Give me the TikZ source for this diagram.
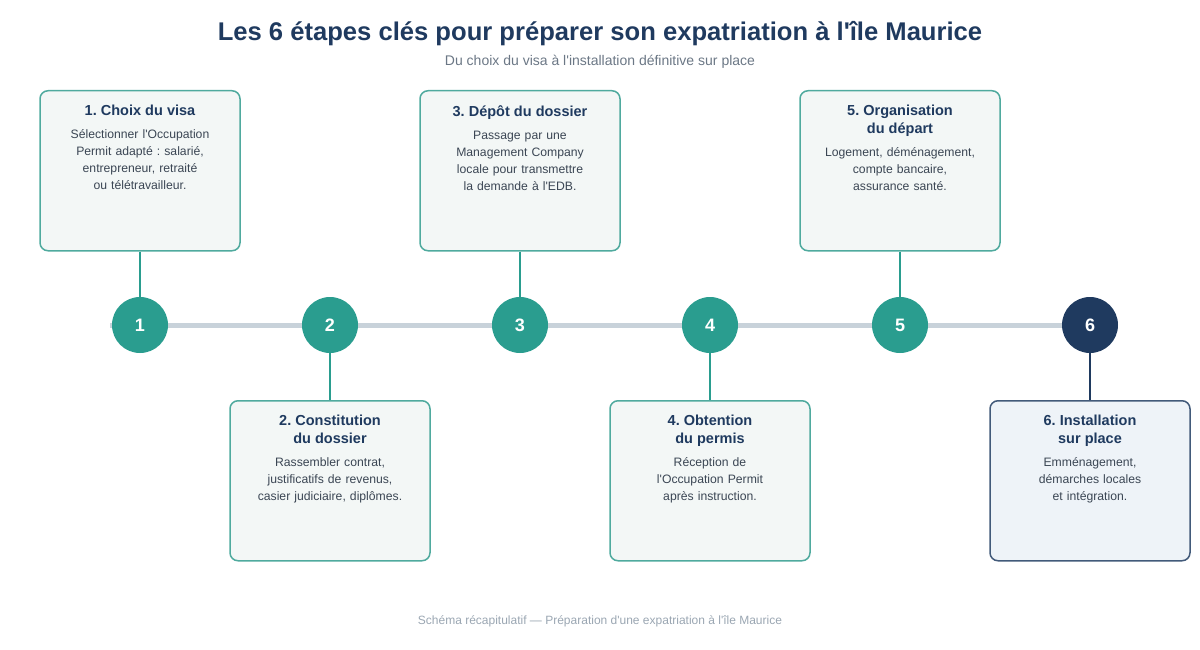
\documentclass[tikz,border=0pt]{standalone}
\usepackage{fontspec}
\setmainfont{Liberation Sans}[Ligatures=TeXOff]
\usepackage{xcolor}
\usetikzlibrary{positioning,backgrounds}
\frenchspacing
\definecolor{teal}{HTML}{2A9D8F}
\definecolor{navy}{HTML}{1F3A5F}
\definecolor{tealframe}{HTML}{4FAA9E}
\definecolor{navyframe}{HTML}{425A7A}
\definecolor{tealfill}{HTML}{F3F7F6}
\definecolor{navyfill}{HTML}{EEF3F8}
\definecolor{rail}{HTML}{C8D2DA}
\definecolor{bodytext}{HTML}{3B4654}
\definecolor{subtext}{HTML}{6B7785}
\definecolor{foottext}{HTML}{9AA6B2}
\tikzset{
  step circle/.style={circle,fill=teal,text=white,minimum size=56pt,inner sep=0pt,font=\fontsize{18}{20}\selectfont\bfseries},
  last circle/.style={step circle,fill=navy},
  step box/.style={draw=tealframe,fill=tealfill,line width=1.5pt,rounded corners=8pt,minimum width=200pt,minimum height=160pt,anchor=north},
  last box/.style={step box,draw=navyframe,fill=navyfill},
  box text/.style={anchor=north,align=center,text width=196pt,text=bodytext,font=\fontsize{12.2}{17}\selectfont,inner sep=0pt},
  link/.style={draw=teal,line width=2pt},
}
\newcommand{\steptitle}[1]{{\fontsize{14.5}{18}\selectfont\bfseries\color{navy}#1\par}\vspace{6pt}}

\begin{document}
\begin{tikzpicture}[x=1pt,y=-1pt]
			\useasboundingbox (0,0) rectangle (1200,650);
			% titre
			\node[font=\fontsize{25.6}{28}\selectfont\bfseries,text=navy] (title) at (600,34) {Les 6 étapes clés pour préparer son expatriation à l'île Maurice};
			\node[font=\fontsize{14}{16}\selectfont,text=subtext] (subtitle) at (600,62) {Du choix du visa à l'installation définitive sur place};
			% frise
			\coordinate (start) at (110,325);
			\node[step circle] (c1) at (140,325) {1};
			\node[step circle] (c2) at (330,325) {2};
			\node[step circle] (c3) at (520,325) {3};
			\node[step circle] (c4) at (710,325) {4};
			\node[step circle] (c5) at (900,325) {5};
			\node[last circle] (c6) at (1090,325) {6};
			\begin{scope}[on background layer]
			\draw[rail,line width=5pt] (start) -- (c6.center);
			\end{scope}
			% boites
			\node[step box] (b1) at (140,90) {};
			\node[step box] (b2) at (330,400) {};
			\node[step box] (b3) at (520,90) {};
			\node[step box] (b4) at (710,400) {};
			\node[step box] (b5) at (900,90) {};
			\node[last box] (b6) at (1090,400) {};
			\node[box text,below=15pt of b1.north] (t1) {\steptitle{1. Choix du visa}Sélectionner l'Occupation\\Permit adapté : salarié,\\entrepreneur, retraité\\ou télétravailleur.};
			\node[box text,below=15pt of b2.north] (t2) {\steptitle{2. Constitution\\du dossier}Rassembler contrat,\\justificatifs de revenus,\\casier judiciaire, diplômes.};
			\node[box text,below=15pt of b3.north] (t3) {\steptitle{3. Dépôt du dossier}Passage par une\\Management Company\\locale pour transmettre\\la demande à l'EDB.};
			\node[box text,below=15pt of b4.north] (t4) {\steptitle{4. Obtention\\du permis}Réception de\\l'Occupation Permit\\après instruction.};
			\node[box text,below=15pt of b5.north] (t5) {\steptitle{5. Organisation\\du départ}Logement, déménagement,\\compte bancaire,\\assurance santé.};
			\node[box text,below=15pt of b6.north] (t6) {\steptitle{6. Installation\\sur place}Emménagement,\\démarches locales\\et intégration.};
			% liens
			\draw[link] (b1.south) -- (c1.north);
			\draw[link] (c2.south) -- (b2.north);
			\draw[link] (b3.south) -- (c3.north);
			\draw[link] (c4.south) -- (b4.north);
			\draw[link] (b5.south) -- (c5.north);
			\draw[link,draw=navy] (c6.south) -- (b6.north);
			% pied
			\node[font=\fontsize{12}{14}\selectfont,text=foottext] (footer) at (600,621) {Schéma récapitulatif — Préparation d'une expatriation à l'île Maurice};
		\end{tikzpicture}
\end{document}
